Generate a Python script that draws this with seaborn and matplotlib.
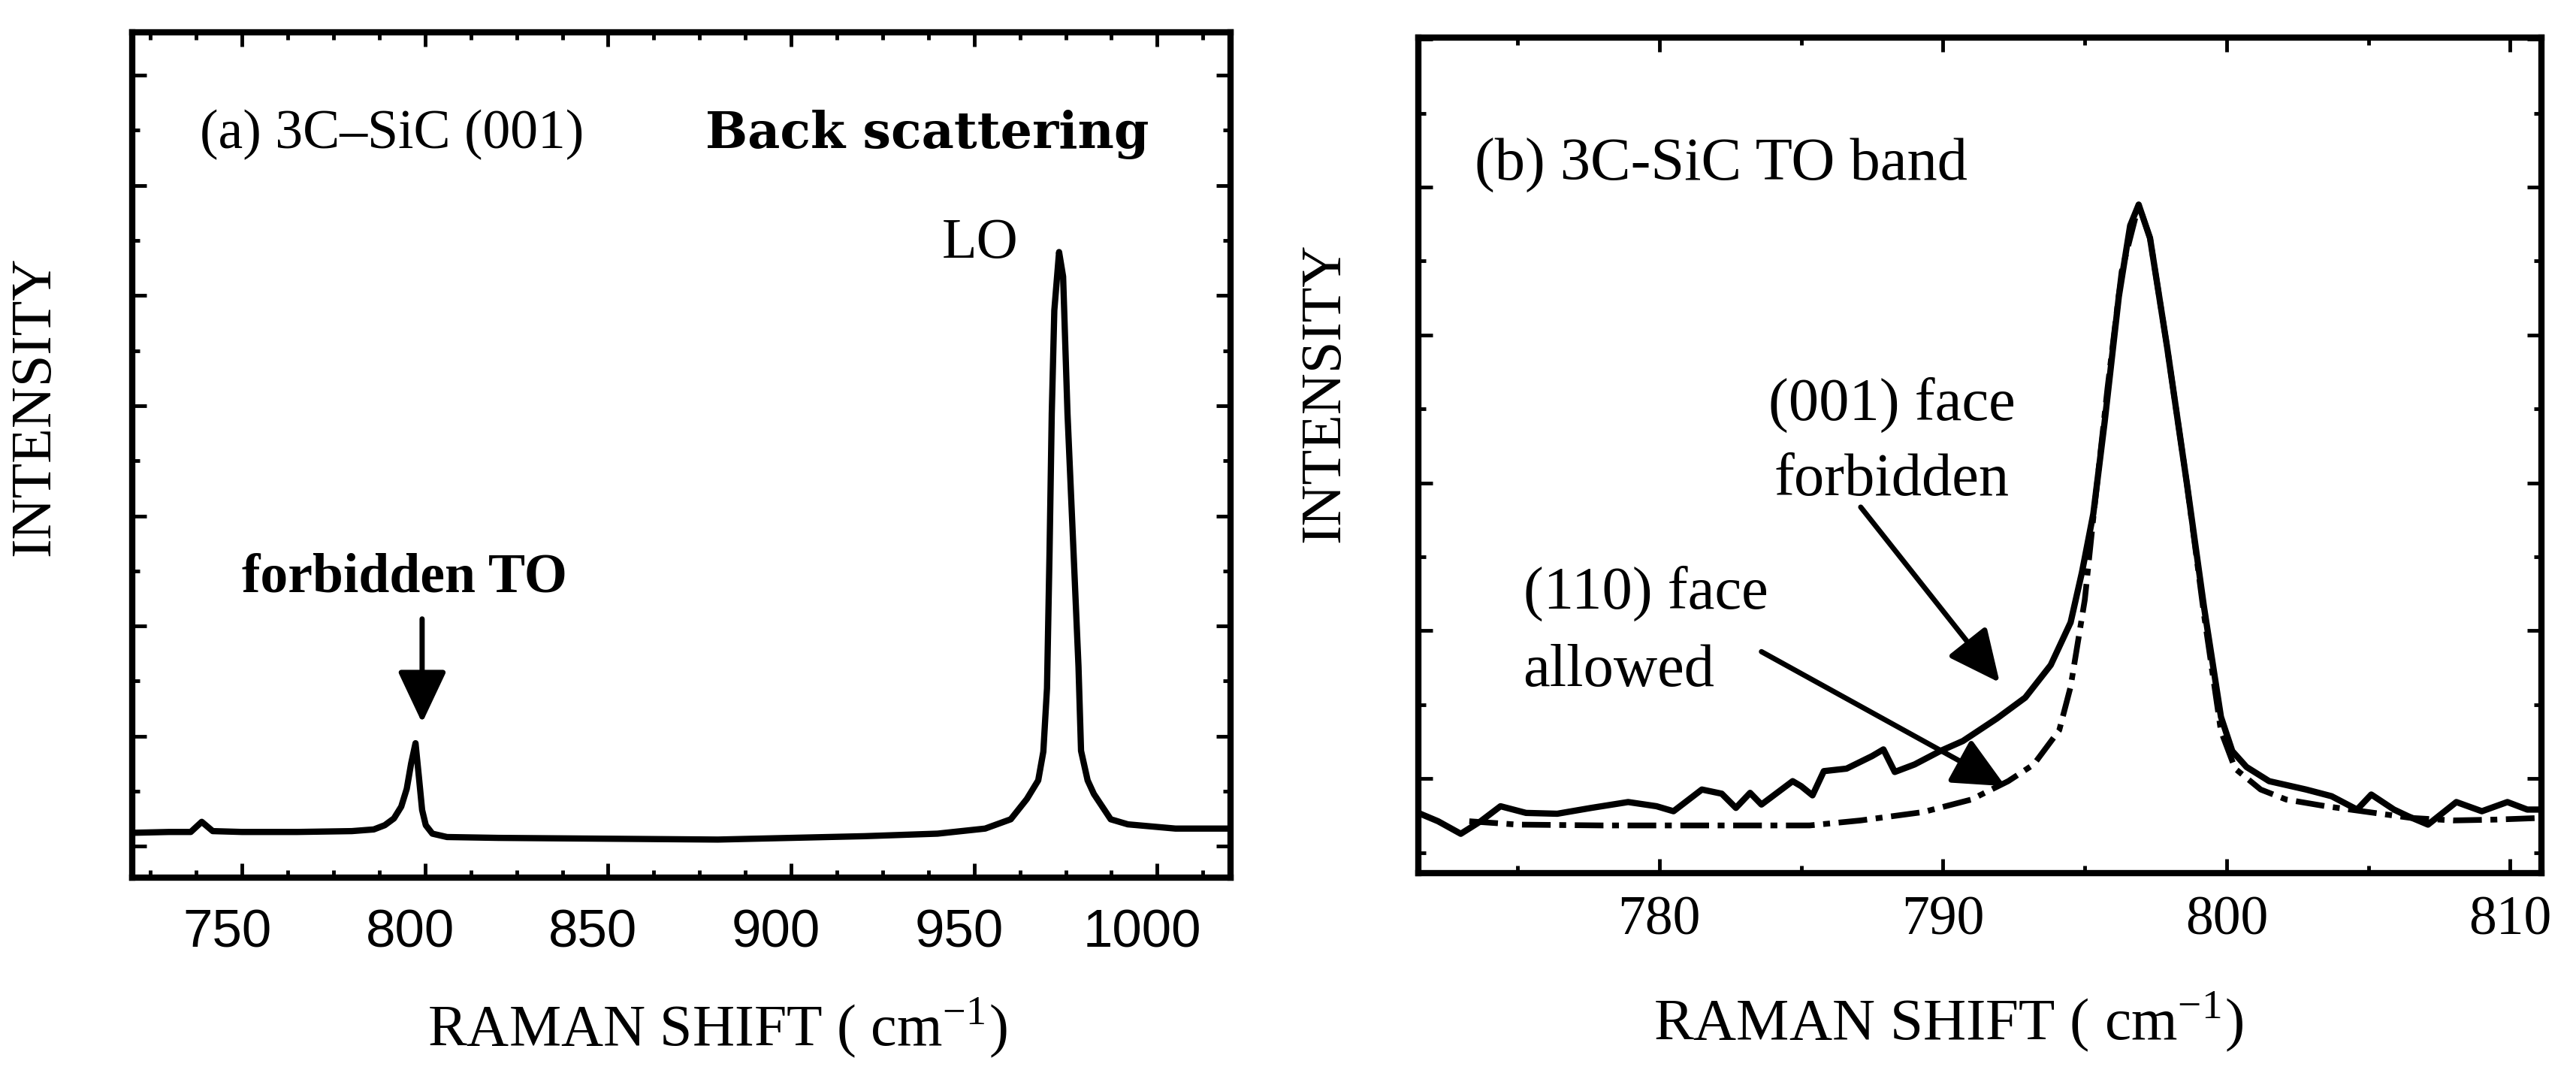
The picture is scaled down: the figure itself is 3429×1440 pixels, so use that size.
import numpy as np
import matplotlib
matplotlib.use('Agg')
import matplotlib.pyplot as plt
import matplotlib.ticker as mticker
import matplotlib.transforms as mtransforms
import seaborn as sns

#Panel (a): 3C-SiC (001) back scattering spectrum
#Intensity is read off the picture as a fraction of the axis height
a_shift = [720, 730, 736, 739, 742, 750, 765, 780, 786, 789, 791.5, 793.5,
           795, 796.2, 797.4, 798.3, 799.2, 800.2, 802, 806, 820, 850, 880,
           900, 920, 940, 953, 960, 964.4, 967.5, 968.9, 969.9, 970.6, 971.2,
           971.9, 973.2, 974.3, 975.5, 977.2, 978.5, 979.2, 981, 982.7, 987.3,
           992, 1005, 1020]
a_intensity = [0.053, 0.054, 0.054, 0.066, 0.055, 0.054, 0.054, 0.055, 0.057,
               0.062, 0.070, 0.084, 0.105, 0.135, 0.159, 0.120, 0.080, 0.062,
               0.052, 0.048, 0.047, 0.046, 0.045, 0.047, 0.049, 0.052, 0.058,
               0.069, 0.093, 0.115, 0.149, 0.224, 0.386, 0.549, 0.671, 0.740,
               0.711, 0.549, 0.380, 0.250, 0.150, 0.115, 0.099, 0.069, 0.063,
               0.058, 0.058]

#Panel (b): TO band, (001) face (forbidden, solid) and (110) face (allowed, dash-dot)
b001_shift = [771.5, 772.2, 773.0, 773.7, 774.4, 775.3, 776.4, 777.6, 778.9,
              779.9, 780.5, 781.5, 782.2, 782.7, 783.2, 783.6, 784.7, 785.0,
              785.4, 785.8, 786.6, 787.5, 787.9, 788.3, 789.0, 789.9, 790.7,
              791.9, 792.9, 793.8, 794.5, 794.9, 795.3, 795.7, 796.2, 796.6,
              796.9, 797.3, 797.9, 798.6, 799.2, 799.8, 800.2, 800.7, 801.5,
              802.8, 803.7, 804.6, 805.1, 805.9, 806.4, 807.1, 808.1, 809.0,
              809.9, 810.6, 811.1]
b001_intensity = [0.072, 0.062, 0.047, 0.062, 0.080, 0.072, 0.071, 0.078,
                  0.085, 0.080, 0.074, 0.100, 0.095, 0.078, 0.096, 0.082,
                  0.110, 0.104, 0.093, 0.122, 0.125, 0.140, 0.148, 0.121,
                  0.130, 0.146, 0.158, 0.185, 0.210, 0.249, 0.300, 0.360,
                  0.430, 0.540, 0.690, 0.775, 0.800, 0.760, 0.630, 0.466,
                  0.319, 0.187, 0.146, 0.127, 0.110, 0.100, 0.092, 0.076,
                  0.094, 0.076, 0.068, 0.058, 0.085, 0.074, 0.085, 0.076,
                  0.076]

b110_shift = [773.3, 775, 778, 781, 784, 785.3, 787.1, 789.3, 791.0, 792.3,
              793.2, 794.1, 794.5, 795.0, 795.3, 795.8, 796.3, 796.9, 797.3,
              797.9, 798.6, 799.2, 799.8, 800.3, 801.2, 802.1, 803.5, 805,
              806.5, 808, 809.5, 811.1]
b110_intensity = [0.062, 0.058, 0.057, 0.057, 0.057, 0.057, 0.063, 0.073,
                  0.088, 0.110, 0.130, 0.171, 0.223, 0.327, 0.425, 0.580,
                  0.720, 0.800, 0.760, 0.630, 0.466, 0.310, 0.170, 0.125,
                  0.100, 0.088, 0.080, 0.073, 0.066, 0.063, 0.064, 0.066]

a_ticks = [750, 800, 850, 900, 950, 1000]
b_ticks = [780, 790, 800, 810]

sns.set_style('ticks')
plt.rcParams['font.family'] = ['Liberation Serif', 'DejaVu Serif']
plt.rcParams['mathtext.fontset'] = 'stix'
plt.rcParams['axes.linewidth'] = 6
for key in ['text.color', 'axes.labelcolor', 'axes.edgecolor',
            'xtick.color', 'ytick.color']:
    plt.rcParams[key] = 'black'

fig = plt.figure(figsize=(34.3, 14.4), dpi=100)
ax_a = fig.add_axes([0.0513, 0.1889, 0.4262, 0.7813])
ax_b = fig.add_axes([0.5504, 0.1931, 0.4359, 0.7722])

line_kw = dict(color='black', lw=6, estimator=None, sort=False, legend=False)

#Panel (a)
sns.lineplot(x=a_shift, y=a_intensity, ax=ax_a, **line_kw)
ax_a.set_xlim(720, 1020)
ax_a.set_ylim(0, 1)
ax_a.set_xticks(a_ticks)
ax_a.xaxis.set_minor_locator(mticker.MultipleLocator(12.5))
ax_a.yaxis.set_major_locator(mticker.MultipleLocator(0.1303, offset=0.037))
ax_a.yaxis.set_minor_locator(mticker.MultipleLocator(0.06515, offset=0.037))
ax_a.set_yticklabels([])
ax_a.tick_params(which='both', direction='in', top=True, right=True,
                 width=3.5, labelleft=False)
ax_a.tick_params(which='major', length=14)
ax_a.tick_params(which='minor', length=7)
ax_a.tick_params(axis='x', pad=30)
for lab in ax_a.get_xticklabels():
    lab.set_fontfamily(['Liberation Sans', 'DejaVu Sans'])
    lab.set_fontsize(51)
    lab.set_transform(lab.get_transform() +
                      mtransforms.ScaledTranslation(-0.2, 0, fig.dpi_scale_trans))

ax_a.set_xlabel('RAMAN SHIFT ( cm$^{\\mathregular{-1}}$)', fontsize=56)
ax_a.set_ylabel('INTENSITY', fontsize=55)
ax_a.xaxis.set_label_coords(0.533, -0.14)
ax_a.yaxis.set_label_coords(-0.065, 0.558)

ax_a.text(738.5, 0.863, '(a) 3C\u2013SiC (001)', fontsize=53, va='baseline')
ax_a.text(876.6, 0.863, 'Back scattering', fontsize=48, va='baseline',
          fontweight='bold', family=['DejaVu Serif'])
ax_a.text(941.2, 0.733, 'LO', fontsize=55, va='baseline')
ax_a.text(750, 0.338, 'forbidden TO', fontsize=53, va='baseline',
          fontweight='bold')

arrow_kw = dict(arrowstyle='-|>,head_length=0.85,head_width=0.4',
                mutation_scale=50, color='black', lw=5,
                shrinkA=0, shrinkB=0)
ax_a.annotate('', xy=(799.2, 0.183), xytext=(799.2, 0.306),
              arrowprops=arrow_kw)

#Panel (b)
sns.lineplot(x=b001_shift, y=b001_intensity, ax=ax_b, **line_kw)
sns.lineplot(x=b110_shift, y=b110_intensity, ax=ax_b,
             linestyle=(0, (5, 1.5, 1.2, 1.5)), color='black', lw=5.5,
             estimator=None, sort=False, legend=False)
ax_b.set_xlim(771.5, 811.1)
ax_b.set_ylim(0, 1)
ax_b.set_xticks(b_ticks)
ax_b.xaxis.set_minor_locator(mticker.MultipleLocator(5))
ax_b.yaxis.set_major_locator(mticker.MultipleLocator(0.177, offset=0.113))
ax_b.yaxis.set_minor_locator(mticker.MultipleLocator(0.0885, offset=0.113))
ax_b.set_yticklabels([])
ax_b.tick_params(which='both', direction='in', top=True, right=True,
                 width=3.5, labelleft=False)
ax_b.tick_params(which='major', length=14)
ax_b.tick_params(which='minor', length=7)
ax_b.tick_params(axis='x', pad=22, labelsize=53)

ax_b.set_xlabel('RAMAN SHIFT ( cm$^{\\mathregular{-1}}$)', fontsize=57)
ax_b.set_ylabel('INTENSITY', fontsize=55)
ax_b.xaxis.set_label_coords(0.472, -0.14)
ax_b.yaxis.set_label_coords(-0.060, 0.575)

ax_b.text(773.5, 0.829, '(b) 3C-SiC TO band', fontsize=58, va='baseline')
ax_b.text(788.2, 0.542, '(001) face', fontsize=58, va='baseline', ha='center')
ax_b.text(788.2, 0.452, 'forbidden', fontsize=58, va='baseline', ha='center')
ax_b.text(775.2, 0.317, '(110) face', fontsize=58, va='baseline')
ax_b.text(775.2, 0.224, 'allowed', fontsize=58, va='baseline')

ax_b.annotate('', xy=(792.0, 0.228), xytext=(787.1, 0.438),
              arrowprops=arrow_kw)
ax_b.annotate('', xy=(792.2, 0.104), xytext=(783.6, 0.265),
              arrowprops=arrow_kw)

fig.savefig('out.png', dpi=100)
